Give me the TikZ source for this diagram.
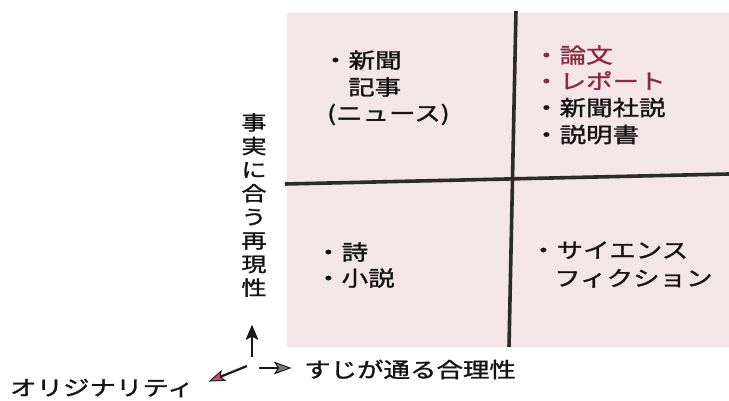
\documentclass[tikz,border=0pt]{standalone}
\usepackage{fontspec}
\setmainfont[FakeStretch=1.26,FakeBold=1.4]{Noto Sans CJK JP}
\usetikzlibrary{arrows.meta,calc}
\definecolor{pinkbg}{HTML}{F4E5E9}
\definecolor{linedark}{HTML}{2B2B2B}
\definecolor{redtext}{HTML}{8A2C3C}
\definecolor{redarrow}{HTML}{C8506A}
\definecolor{greyarrow}{HTML}{7A7A7A}
\tikzset{
  lbl/.style={inner sep=0pt, anchor=base west, font=\fontsize{21}{26}\selectfont, text=black!92},
  divider/.style={draw=linedark, line width=3.6pt},
  axisarrow/.style={line width=2.2pt, draw=black!90},
  headshape/.style={draw=black!90, line width=1pt, line join=miter}
}
\begin{document}
\begin{tikzpicture}[x=1pt,y=-1pt]
\useasboundingbox (0,0) rectangle (729,401);
% background panel
\fill[pinkbg] (287,13) rectangle (729,347);
% dividers
\coordinate (vt) at (516,11);
\coordinate (vb) at (509,347);
\coordinate (hl) at (285,184);
\coordinate (hr) at (729,174);
\draw[divider] (vt) -- (vb);
\draw[divider] (hl) -- (hr);
% top-left quadrant
\node[lbl] (tl1) at (322,68) {・新聞};
\node[lbl] (tl2) at (348,95) {記事};
\node[lbl] (tl3) at (327,121) {(ニュース)};
% top-right quadrant
\node[lbl, text=redtext] (tr1) at (533,63) {・論文};
\node[lbl, text=redtext] (tr2) at (533,89) {・レポート};
\node[lbl] (tr3) at (533,115.5) {・新聞社説};
\node[lbl] (tr4) at (533,142.5) {・説明書};
% bottom-left quadrant
\node[lbl] (bl1) at (315,260) {・詩};
\node[lbl] (bl2) at (315,286) {・小説};
% bottom-right quadrant
\node[lbl] (br1) at (530,258) {・サイエンス};
\node[lbl] (br2) at (554,286) {フィクション};
% vertical axis label
\node[inner sep=0pt, align=center, font=\fontsize{20}{23.6}\selectfont, text=black!92] (ylab) at (254,205)
  {事\\実\\に\\合\\う\\再\\現\\性};
% axis arrows: shafts
\coordinate (o) at (252,357);
\coordinate (up) at (252,326);
\coordinate (rs) at (259,368);
\coordinate (re) at (290,368);
\coordinate (ls) at (247,366);
\coordinate (le) at (210,381);
\draw[axisarrow] (o) -- ($(up)+(0,8)$);
\draw[axisarrow] (rs) -- ($(re)+(-9,0)$);
\draw[axisarrow] (ls) -- ($(le)!9pt!(ls)$);
% arrow heads
\filldraw[headshape, fill=black!90] (up) -- ++(-5.5,13) -- ++(5.5,-3) -- ++(5.5,3) -- cycle;
\filldraw[headshape, fill=greyarrow] (re) -- ++(-15,-5.5) -- ++(3.5,5.5) -- ++(-3.5,5.5) -- cycle;
\filldraw[headshape, fill=redarrow] (le) -- (224.9,380.4) -- (220.2,376.9) -- (221.1,371.1) -- cycle;
% axis labels
\node[lbl] (xlab) at (304,377.5) {すじが通る合理性};
\node[lbl] (zlab) at (10,395.5) {オリジナリティ};
\end{tikzpicture}
\end{document}
